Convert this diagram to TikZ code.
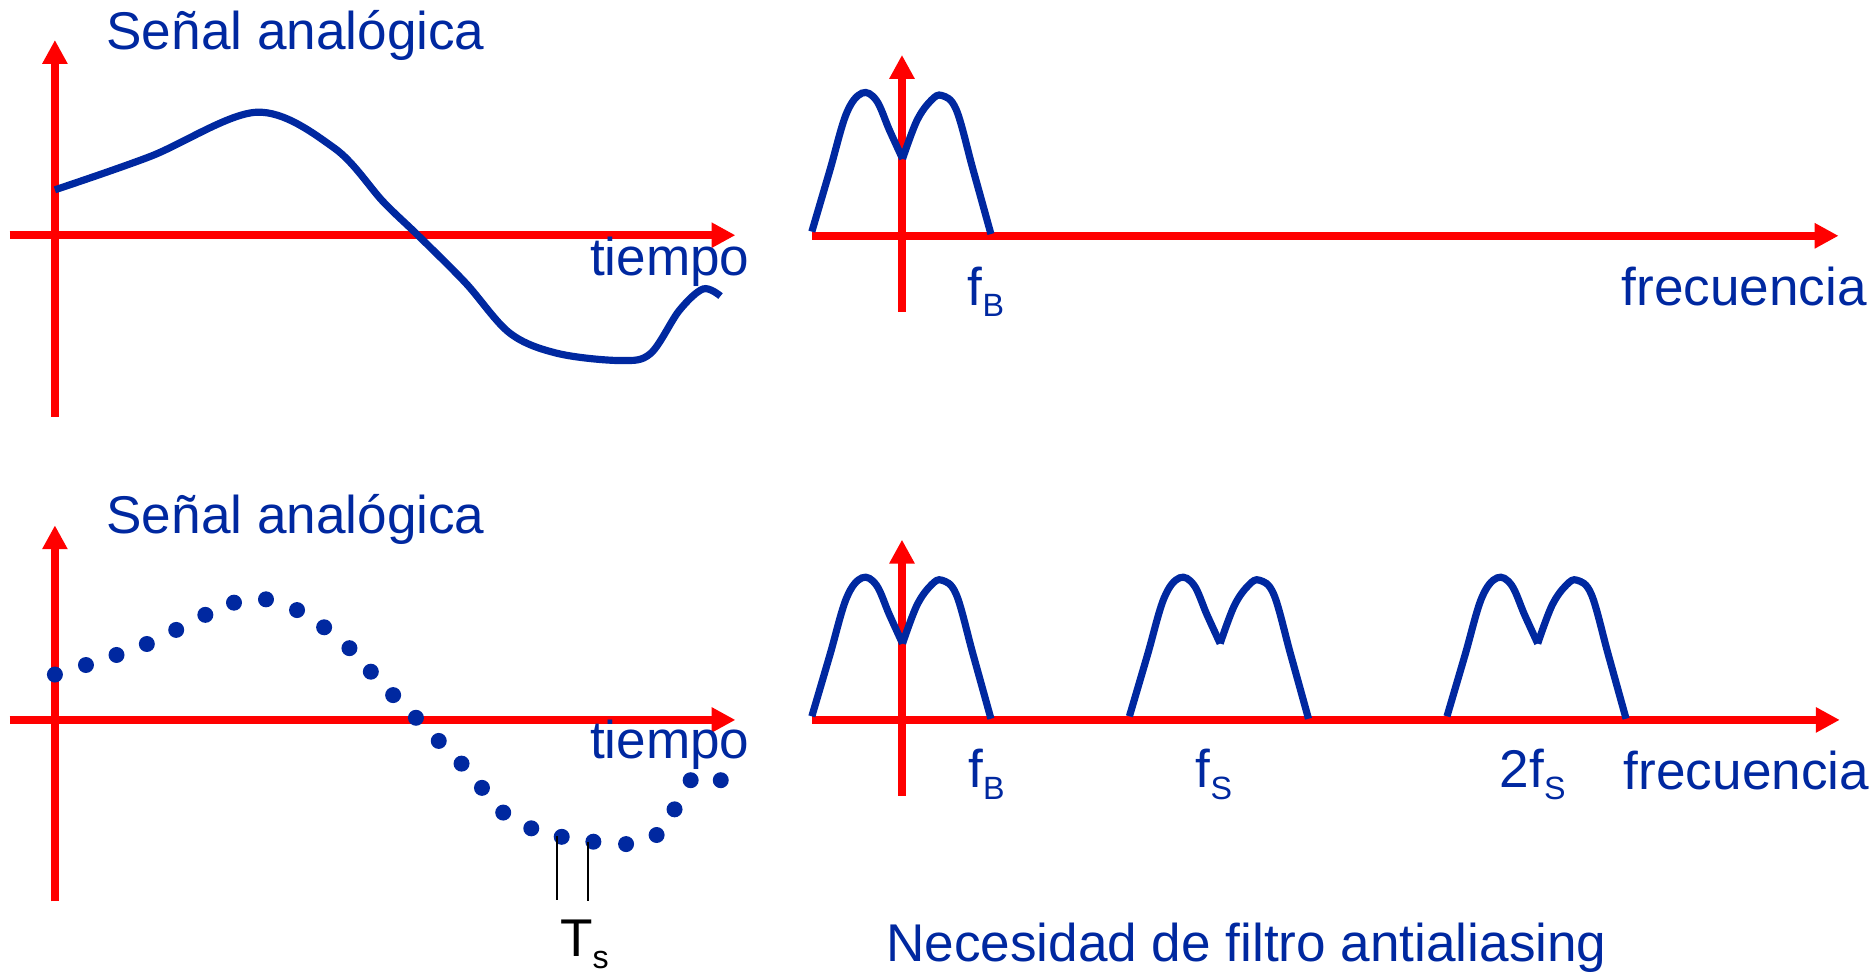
\documentclass[tikz,border=0pt]{standalone}
\usepackage{fontspec}
\setmainfont{Liberation Sans}
\usetikzlibrary{arrows.meta}
\definecolor{sigblue}{RGB}{0,40,160}
\definecolor{axred}{RGB}{255,0,0}
\newcommand{\sbx}[1]{\raisebox{-10pt}{\fontsize{27}{27}\selectfont #1}}
\begin{document}
\begin{tikzpicture}[x=1pt,y=-1pt,
  axisarrow/.style={axred, line width=6.4pt, -{Triangle[length=20pt,width=20pt]}},
  sig/.style={sigblue, line width=6pt},
  lbl/.style={sigblue, inner sep=0pt, anchor=base west, font=\fontsize{44.5}{50}\selectfont},
  smp/.style={sigblue, fill, circle, inner sep=0pt, minimum size=13.4pt},
  tsline/.style={black, line width=2pt},
  spectrum/.pic={
    \draw[sig] plot[smooth, tension=0.6] coordinates {(0,-3) (15,-54) (29,-102) (42,-119) (54,-113) (65,-88) (76,-64)};
    \draw[sig] plot[smooth, tension=0.6] coordinates {(76,-64) (88,-96) (100,-113) (109,-117) (121,-105) (135,-55) (150,-1)};
  }]
\useasboundingbox (0,0) rectangle (1568,815);

% ---------- top left: analog signal ----------
\coordinate (tlv0) at (46,349);
\coordinate (tlv1) at (46,33.5);
\coordinate (tlh0) at (8,197);
\coordinate (tlh1) at (616,197);
\draw[axisarrow] (tlh0) -- (tlh1);
\draw[axisarrow] (tlv0) -- (tlv1);
\draw[sig] plot[smooth, tension=0.55] coordinates {(46,159) (126,131) (215,94) (280,124) (321,169) (350,197) (390,237) (427,279) (467,296) (520,302) (545,296) (569,260) (589,242) (603.5,248)};
\node[lbl] (title1) at (89,41.5) {Señal analógica};
\node[lbl] (tiempo1) at (494,230.5) {tiempo};

% ---------- top right: spectrum ----------
\coordinate (trv0) at (755.5,261);
\coordinate (trv1) at (755.5,46);
\coordinate (trh0) at (680,197.5);
\coordinate (trh1) at (1540,197.5);
\draw[axisarrow] (trh0) -- (trh1);
\draw[axisarrow] (trv0) -- (trv1);
\pic at (680,197) {spectrum};
\node[lbl] (fb1) at (810.5,255.5) {f\sbx{B}};
\node[lbl] (frec1) at (1358,256) {frecuencia};

% ---------- bottom left: sampled signal ----------
\coordinate (blv0) at (46,755);
\coordinate (blv1) at (46,440);
\coordinate (blh0) at (8,603);
\coordinate (blh1) at (616,603);
\draw[axisarrow] (blh0) -- (blh1);
\draw[axisarrow] (blv0) -- (blv1);
\foreach \px/\py [count=\i] in {46/565, 72/557, 97.6/548.6, 123/539.4, 147.6/527.6, 172/515, 196/504.8, 222.8/502, 248.8/511, 271.5/525.4, 292.7/542.9, 310.6/562.6, 329.3/582.2, 348.4/601.2, 367.5/620.6, 386.6/639.6, 403.7/659.9, 421.5/680.6, 445/693.8, 470.5/700.9, 497/705, 524.4/707, 550/699.4, 565/677.9, 578.5/653.5, 603.7/653.5}
  \node[smp] (d\i) at (\px,\py) {};
\coordinate (ts1a) at (466.3,700);
\coordinate (ts1b) at (466.3,754);
\coordinate (ts2a) at (492.7,705);
\coordinate (ts2b) at (492.7,755);
\draw[tsline] (ts1a) -- (ts1b);
\draw[tsline] (ts2a) -- (ts2b);
\node[lbl, text=black] (ts) at (469,801) {T\raisebox{-10pt}{\fontsize{27}{27}\selectfont s}};
\node[lbl] (title2) at (89,447) {Señal analógica};
\node[lbl] (tiempo2) at (494,635.5) {tiempo};

% ---------- bottom right: sampled spectrum ----------
\coordinate (brv0) at (755.5,666.5);
\coordinate (brv1) at (755.5,452);
\coordinate (brh0) at (680,603);
\coordinate (brh1) at (1541,603);
\draw[axisarrow] (brh0) -- (brh1);
\draw[axisarrow] (brv0) -- (brv1);
\pic at (680,603) {spectrum};
\pic at (946,603) {spectrum};
\pic at (1212,603) {spectrum};
\node[lbl] (fb2) at (811,660) {f\sbx{B}};
\node[lbl] (fs) at (1001.5,660) {f\sbx{S}};
\node[lbl] (f2s) at (1256,660) {2f\sbx{S}};
\node[lbl] (frec2) at (1360,661) {frecuencia};

\node[lbl] (nec) at (742,805.4) {Necesidad de filtro antialiasing};
\end{tikzpicture}
\end{document}
